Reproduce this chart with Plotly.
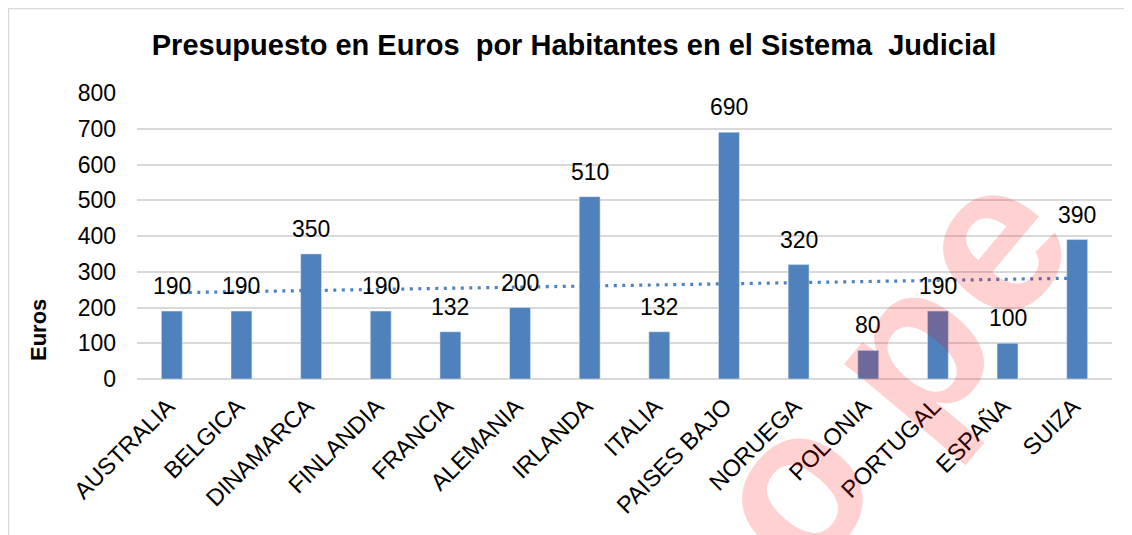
import numpy as np
import plotly.graph_objects as go

categories = ["AUSTRALIA", "BELGICA", "DINAMARCA", "FINLANDIA", "FRANCIA", "ALEMANIA",
              "IRLANDA", "ITALIA", "PAISES BAJO", "NORUEGA", "POLONIA", "PORTUGAL",
              "ESPAÑA", "SUIZA"]
values = [190, 190, 350, 190, 132, 200, 510, 132, 690, 320, 80, 190, 100, 390]
y_ticks = [0, 100, 200, 300, 400, 500, 600, 700, 800]
watermark_letters = ["o", "p", "e"]

OFF = 8  # page body margin
W, H = 1132 - OFF, 535 - OFF
L, R, T, B = 137 - OFF, 1132 - 1112, 93 - OFF, 535 - 379
pw, ph = W - L - R, H - T - B
FONT = "Liberation Sans, Arial"

def px(x):  # reference page pixel -> paper x
    return (x - OFF - L) / pw

def py(y):  # reference page pixel -> paper y
    return (H - B - (y - OFF)) / ph

idx = np.arange(1, len(values) + 1)
slope, intercept = np.polyfit(idx, values, 1)
trend = slope * idx + intercept

fig = go.Figure()
fig.add_trace(go.Bar(
    x=categories, y=values, marker_color="#4F81BD", width=0.30,
    showlegend=False, hoverinfo="x+y"))
fig.add_trace(go.Scatter(
    x=categories, y=trend, mode="lines",
    line=dict(color="#4F81BD", width=3.2, dash="3px,5.5px"),
    showlegend=False, hoverinfo="skip"))

annotations = []
for c, v in zip(categories, values):
    annotations.append(dict(x=c, y=v, xref="x", yref="y", text=str(v), showarrow=False,
                            xanchor="center", yanchor="bottom", yshift=10,
                            font=dict(family=FONT, size=23, color="#000000")))
annotations.append(dict(text="<b>Euros</b>", xref="paper", yref="paper",
                        x=px(38), y=py(330), xanchor="center", yanchor="middle",
                        showarrow=False, textangle=-90,
                        font=dict(family=FONT, size=22, color="#000000")))
wm_pos = [(788, 488), (906, 350), (987, 241)]
for letter, (wx, wy) in zip(watermark_letters, wm_pos):
    annotations.append(dict(text="<b>" + letter + "</b>", xref="paper", yref="paper",
                            x=px(wx), y=py(wy), xanchor="center", yanchor="middle",
                            showarrow=False, textangle=-50,
                            font=dict(family=FONT, size=215, color="rgba(255,0,0,0.18)")))

fig.update_layout(
    width=W, height=H,
    margin=dict(l=L, r=R, t=T, b=B),
    paper_bgcolor="white", plot_bgcolor="white",
    title=dict(text="<b>Presupuesto en Euros  por Habitantes en el Sistema  Judicial</b>",
               x=(574 - OFF) / W, xanchor="center", y=1 - (45 - OFF) / H, yanchor="middle",
               font=dict(family=FONT, size=29, color="#000000")),
    xaxis=dict(tickangle=-45, showgrid=False, showline=False, ticks="",
               ticklabelstandoff=8, ticklabelshift=-4,
               tickfont=dict(family=FONT, size=23.5, color="#000000")),
    yaxis=dict(range=[0, 800], tickvals=y_ticks, showgrid=True, gridcolor="#D9D9D9",
               gridwidth=1.5, zeroline=True, zerolinecolor="#D9D9D9", zerolinewidth=1.5,
               showline=False, ticks="", ticklabelstandoff=20,
               tickfont=dict(family=FONT, size=23, color="#000000")),
    shapes=[dict(type="rect", xref="paper", yref="paper",
                 x0=px(OFF + 0.5), x1=px(1150), y0=py(560), y1=py(OFF + 0.5),
                 line=dict(color="#D9D9D9", width=1.5), fillcolor="rgba(0,0,0,0)", layer="below")],
    annotations=annotations,
)

fig.write_html("out.html")
